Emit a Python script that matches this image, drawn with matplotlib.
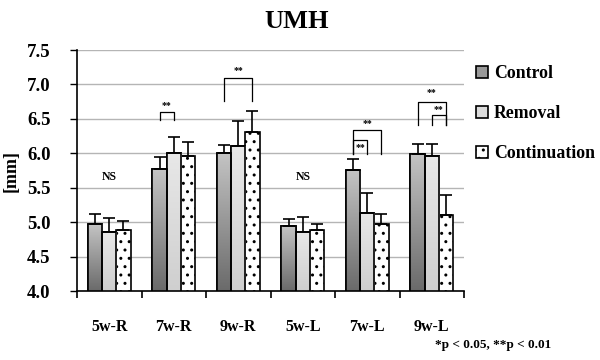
import matplotlib
matplotlib.use('Agg')
import matplotlib.pyplot as plt
import numpy as np
from matplotlib.colors import LinearSegmentedColormap

categories = ['5w-R', '7w-R', '9w-R', '5w-L', '7w-L', '9w-L']
series = ['Control', 'Removal', 'Continuation']
control = [4.97, 5.77, 6.00, 4.94, 5.75, 5.99]
control_err = [0.15, 0.17, 0.12, 0.10, 0.17, 0.15]
removal = [4.86, 6.01, 6.10, 4.85, 5.13, 5.96]
removal_err = [0.20, 0.22, 0.37, 0.22, 0.30, 0.18]
continuation = [4.89, 5.96, 6.31, 4.88, 4.97, 5.10]
continuation_err = [0.12, 0.20, 0.31, 0.10, 0.15, 0.30]
yticks = [4.0, 4.5, 5.0, 5.5, 6.0, 6.5, 7.0, 7.5]

# significance: (category, series a, series b, bracket top, leg bottom, label y)
sig_cat = [1, 2, 4, 4, 5, 5]
sig_a = [0, 0, 0, 0, 0, 1]
sig_b = [1, 2, 2, 1, 2, 2]
sig_top = [6.60, 7.10, 6.34, 6.20, 6.75, 6.55]
sig_bot = [6.48, 6.76, 5.99, 5.99, 6.41, 6.41]
sig_lab = [6.70, 7.20, 6.43, 6.09, 6.88, 6.63]
ns_cats = [0, 3]
ns_y = 5.65

FONT = 'Liberation Serif'
plt.rcParams['font.family'] = [FONT, 'DejaVu Serif']
plt.rcParams['font.weight'] = 'bold'
plt.rcParams['hatch.linewidth'] = 1.0

fig = plt.figure(figsize=(6, 3.6), dpi=100)
ax = fig.add_axes([77/600, 1-291/360, (464-77)/600, (291-50)/360])

x = np.arange(len(categories))
w = 0.22
offs = [-w, 0, w]
vals = [control, removal, continuation]
errs = [control_err, removal_err, continuation_err]
faces = ['#9a9a9a', '#dcdcdc', 'white']
hatches = [None, None, '..']
grads = [('#6a6a6a', '#c4c4c4'), ('#cfcfcf', '#e8e8e8'), None]

ax.set_axisbelow(True)
ax.yaxis.grid(True, color='#b5b5b5', linewidth=1.0)

bars_all = []
for i in range(3):
    bars = ax.bar(x + offs[i], vals[i], w, bottom=0, color=faces[i],
                  edgecolor='black', linewidth=1.2, hatch=hatches[i],
                  label=series[i], zorder=2)
    bars_all.append(bars)
    ax.errorbar(x + offs[i], vals[i], yerr=[np.zeros(len(x)), errs[i]],
                fmt='none', ecolor='black', elinewidth=1.2, capsize=4.5,
                capthick=1.2, zorder=3)

ax.set_xlim(-0.5, 5.5)
ax.set_ylim(4.0, 7.5)

# gradients
for i in range(3):
    if grads[i] is None:
        continue
    cmap = LinearSegmentedColormap.from_list('g%d' % i, list(grads[i]))
    grad = np.linspace(0, 1, 256).reshape(-1, 1)
    for b in bars_all[i]:
        x0 = b.get_x(); x1 = x0 + b.get_width()
        y1 = b.get_y() + b.get_height()
        im = ax.imshow(grad, cmap=cmap, origin='lower', aspect='auto',
                       extent=[x0, x1, 4.0, y1], zorder=2.1)
        im.set_clip_path(b)
        ax.add_patch(plt.Rectangle((x0, b.get_y()), b.get_width(), b.get_height(),
                                   fill=False, edgecolor='black', linewidth=1.2,
                                   zorder=2.2))
ax.set_xlim(-0.5, 5.5)
ax.set_ylim(4.0, 7.5)

# significance brackets
for c, a, b2, top, bot, ly in zip(sig_cat, sig_a, sig_b, sig_top, sig_bot, sig_lab):
    xa = c + offs[a]; xb = c + offs[b2]
    ax.plot([xa, xa, xb, xb], [bot, top, top, bot], color='black', lw=0.9, zorder=4)
    ax.text((xa + xb) / 2, ly, '**', ha='center', va='center', fontsize=7,
            fontweight='bold', zorder=5)
for c in ns_cats:
    ax.text(c, ns_y, 'NS', ha='center', va='center', fontsize=8.5, fontweight='bold')

# axes styling
for s in ['top', 'right']:
    ax.spines[s].set_visible(False)
ax.spines['left'].set_linewidth(1.2)
ax.spines['bottom'].set_linewidth(1.2)
ax.set_yticks(yticks)
ax.set_yticklabels(['%.1f' % v for v in yticks], fontsize=13.5, fontweight='bold')
ax.tick_params(axis='y', length=5, width=1, pad=14)
ax.set_xticks(x)
ax.set_xticklabels(categories, fontsize=11.5, fontweight='bold')
ax.tick_params(axis='x', which='major', length=0, pad=20)
ax.set_xticks(np.arange(-0.5, 6.0, 1.0), minor=True)
ax.tick_params(axis='x', which='minor', length=5, width=1.2, direction='out')
ax.set_ylabel('[mm]', fontsize=13, fontweight='bold', labelpad=5)

fig.text(297/600, 1-21/360, 'UMH', ha='center', va='center', fontsize=19,
         fontweight='bold')
fig.text(435/600, 1-345/360, '*p < 0.05, **p < 0.01', ha='left', va='center',
         fontsize=9.5, fontweight='bold')

leg = fig.legend(handles=[bars_all[0], bars_all[1], bars_all[2]], labels=series,
                 loc='upper left', bbox_to_anchor=(460/600, 1-49/360),
                 frameon=False, handlelength=0.7, handleheight=0.7,
                 handletextpad=0.3, labelspacing=1.3,
                 prop={'family': FONT, 'weight': 'bold', 'size': 12.8})

fig.savefig('out.png', dpi=100)
